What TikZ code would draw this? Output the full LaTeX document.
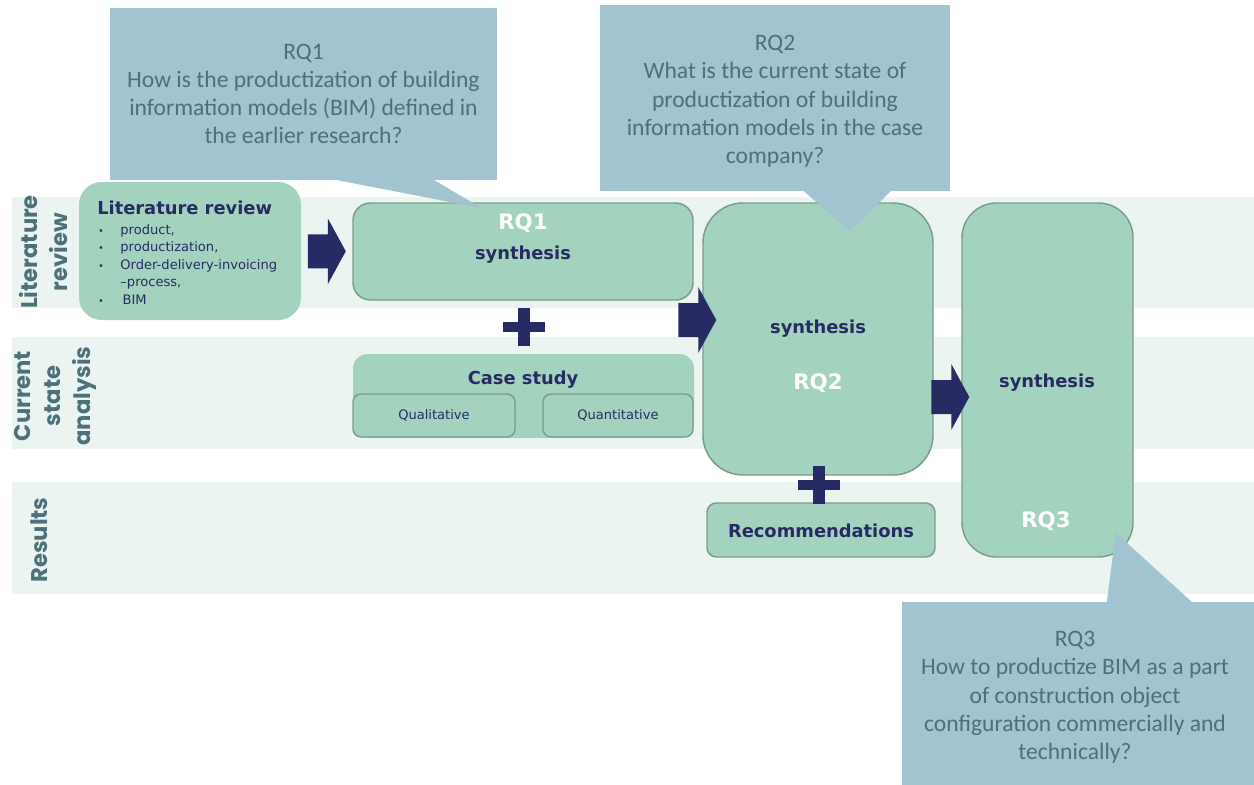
\documentclass[tikz,border=0pt]{standalone}
\usepackage{fontspec}
\setmainfont{Carlito}
\newfontfamily\boxfont{DejaVu Sans}
\newfontfamily\lanefont{Poppins}
\usetikzlibrary{fit,calc}
\definecolor{navy}{HTML}{272B63}
\definecolor{boxfill}{HTML}{A3D3BE}
\definecolor{boxline}{HTML}{7A9C88}
\definecolor{lanefill}{HTML}{ECF4F1}
\definecolor{calloutfill}{HTML}{A1C4D0}
\definecolor{callouttext}{HTML}{4F6F79}
\definecolor{lanetext}{HTML}{4C717B}
\begin{document}
\begin{tikzpicture}[x=0.75pt,y=-0.75pt,
  lane/.style={fill=lanefill},
  box/.style={fill=boxfill, inner sep=0pt},
  framed/.style={box, draw=boxline, line width=1.1pt},
  heading/.style={font=\boxfont\bfseries\fontsize{13.4}{15}\selectfont, text=navy},
  rqlabel/.style={font=\boxfont\bfseries\fontsize{16}{18}\selectfont, text=white},
  small/.style={font=\boxfont\fontsize{9.8}{13.1}\selectfont, text=navy},
  lanelabel/.style={rotate=90, align=center, text=lanetext, inner sep=0pt,
    font=\lanefont\bfseries\fontsize{17}{22.5}\selectfont},
  callout/.style={fill=calloutfill, inner sep=0pt},
  callouttxt/.style={align=center, text=callouttext, inner sep=0pt,
    font=\fontsize{17.7}{21.2}\selectfont},
  pics/blockarrow/.style={code={
    \fill[navy] (-19,-17) -- (1,-17) -- (1,-33) -- (19,0) -- (1,33) -- (1,17) -- (-19,17) -- cycle;}},
  pics/plussign/.style={code={
    \fill[navy] (-21,-5) rectangle (21,5);
    \fill[navy] (-6,-19) rectangle (6,19);}},
]
\useasboundingbox (0,0) rectangle (1254,785);

% swim lanes
\path[lane] (12,197) rectangle (1254,308);
\path[lane] (12,337) rectangle (1254,449);
\path[lane] (12,482) rectangle (1254,594);
\node[lanelabel] (lane1) at (44,252) {Literature\\review};
\node[lanelabel] (lane2) at (55,396) {Current\\state\\analysis};
\node[lanelabel] (lane3) at (39,540) {Results};

% literature review
\node[box, rounded corners=17pt, fit={(79,182) (301,320)}] (litbox) {};
\node[heading, anchor=west, inner sep=0pt] (lithead) at (97,208) {Literature review};
\node[small, anchor=north west, inner sep=0pt] (litlist) at (98,222) {%
  \begin{tabular}{@{}l@{\hspace{12.5pt}}l@{}}
  {\fontsize{7}{9}\selectfont\textbullet} & product,\\
  {\fontsize{7}{9}\selectfont\textbullet} & productization,\\
  {\fontsize{7}{9}\selectfont\textbullet} & Order-delivery-invoicing\\
   & –process,\\
  {\fontsize{7}{9}\selectfont\textbullet} & \,BIM
  \end{tabular}};

% RQ1 synthesis
\node[framed, rounded corners=13pt, fit={(353,203) (693,300)}] (rq1) {};
\node[rqlabel] (rq1a) at (523,223) {RQ1};
\node[heading] (rq1b) at (523,255) {synthesis};

% case study
\node[box, rounded corners=11pt, fit={(353,354) (694,438)}] (case) {};
\node[heading] (casehead) at (523,380) {Case study};
\node[framed, rounded corners=6pt, fit={(353,394) (515,437)}] (qual) {};
\node[small] (qualt) at (qual.center) {Qualitative};
\node[framed, rounded corners=6pt, fit={(543,394) (693,437)}] (quant) {};
\node[small] (quantt) at (quant.center) {Quantitative};

% RQ2 synthesis
\node[framed, rounded corners=30pt, fit={(703,203) (933,475)}] (rq2) {};
\node[heading] (rq2b) at (818,329) {synthesis};
\node[rqlabel] (rq2a) at (818,383) {RQ2};

% recommendations
\node[framed, rounded corners=7pt, fit={(707,503) (935,557)}] (rec) {};
\node[heading] (rect) at ($(rec.center)+(0,1)$) {Recommendations};

% RQ3 synthesis
\node[framed, rounded corners=26pt, fit={(962,203) (1133,557)}] (rq3) {};
\node[heading] (rq3b) at (1047,383) {synthesis};
\node[rqlabel] (rq3a) at (1046,521) {RQ3};

% block arrows and plus signs
\pic at ($(litbox.east)!0.5!(rq1.west)$) {blockarrow};
\pic at ($(rq2.west)+(-5,-19)$) {blockarrow};
\pic at ($(rq3.west)+(-11,17)$) {blockarrow};
\pic at ($(rq1.south)!0.5!(case.north)+(1,0)$) {plussign};
\pic at ($(rq2.south)+(0.5,9.5)$) {plussign};

% research question callouts
\node[callout, fit={(110,8) (497,180)}] (q1) {};
\fill[calloutfill] ($(q1.south west)+(223,-1)$) -- ($(rq1.north)+(-41,6)$) -- ($(q1.south west)+(323,-1)$) -- cycle;
\node[callouttxt] (q1t) at ($(q1.center)+(0,0)$) {RQ1\\How is the productization of building\\information models (BIM) defined in\\the earlier research?};

\node[callout, fit={(600,5) (950,191)}] (q2) {};
\fill[calloutfill] ($(q2.south west)+(203,-1)$) -- ($(rq2.north)+(32,29)$) -- ($(q2.south west)+(292,-1)$) -- cycle;
\node[callouttxt] (q2t) at ($(q2.center)+(0,3.5)$) {RQ2\\What is the current state of\\productization of building\\information models in the case\\company?};

\node[callout, fit={(902,602) (1254,785)}] (q3) {};
\fill[calloutfill] ($(q3.north west)+(205,1)$) -- ($(rq3.south east)+(-18,-25)$) -- ($(q3.north west)+(291,1)$) -- cycle;
\node[callouttxt] (q3t) at ($(q3.center)+(-3,4)$) {RQ3\\How to productize BIM as a part\\of construction object\\configuration commercially and\\technically?};
\end{tikzpicture}
\end{document}
